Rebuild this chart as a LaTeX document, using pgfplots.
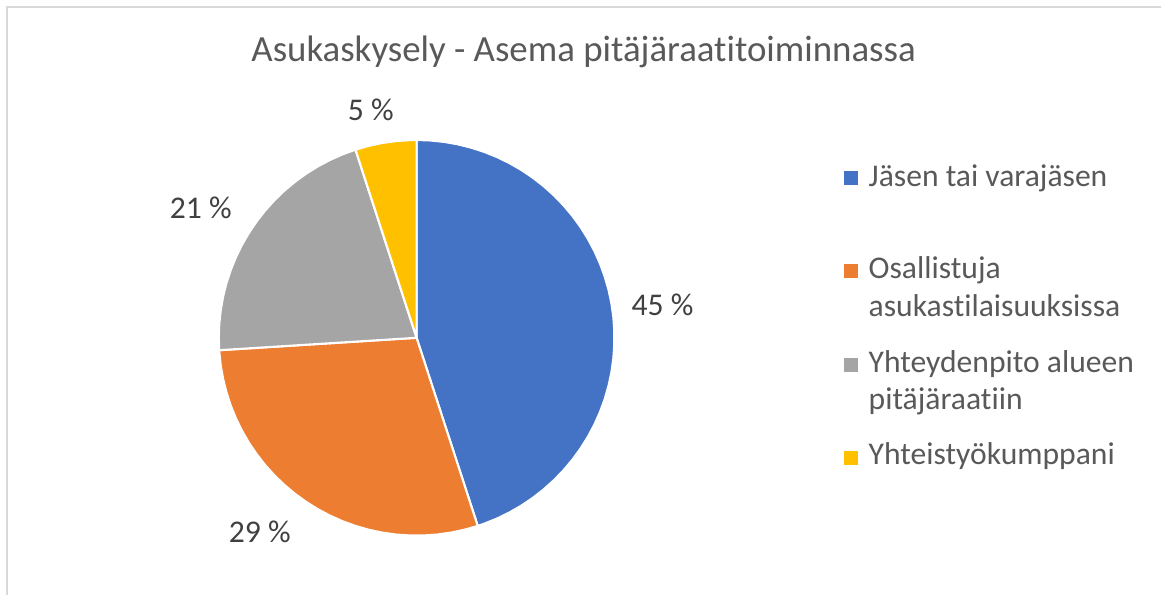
\documentclass[border=0pt]{standalone}
\usepackage{pgfplots}
\pgfplotsset{compat=1.18}
\usepackage{fontspec}
\setmainfont{Carlito}[Ligatures=NoCommon]
\definecolor{cblue}{HTML}{4472C4}
\definecolor{corange}{HTML}{ED7D31}
\definecolor{cgray}{HTML}{A5A5A5}
\definecolor{cyellow}{HTML}{FFC000}
\definecolor{txt}{HTML}{595959}
\definecolor{lbl}{HTML}{404040}
\definecolor{frame}{HTML}{D9D9D9}
\begin{document}
\begin{tikzpicture}[x=0.02cm,y=0.02cm]
\path (0,0) rectangle (1162,595);
\draw[frame, line width=1pt] (7,0) -- (7,588) -- (1162,588);
\begin{axis}[at={(8.34cm,5.14cm)}, anchor=origin, x=3.96cm, y=3.96cm,
  hide axis, xmin=-1, xmax=1, ymin=-1, ymax=1, clip=false,
  data cs=polar]
% Jasen tai varajasen 45 %
\addplot[fill=cblue, draw=white, line width=1.2pt, line join=round] coordinates {
(0,0) (90,1) (86,1) (82,1) (78,1) (74,1) (70,1) (66,1) (62,1) (58,1) (54,1) (50,1)
(46,1) (42,1) (38,1) (34,1) (30,1) (26,1) (22,1) (18,1) (14,1) (10,1) (6,1) (2,1)
(-2,1) (-6,1) (-10,1) (-14,1) (-18,1) (-22,1) (-26,1) (-30,1) (-34,1) (-38,1) (-42,1)
(-46,1) (-50,1) (-54,1) (-58,1) (-62,1) (-66,1) (-70,1) (-72,1) (0,0)};
% Osallistuja 29 %
\addplot[fill=corange, draw=white, line width=1.2pt, line join=round] coordinates {
(0,0) (-72,1) (-76,1) (-80,1) (-84,1) (-88,1) (-92,1) (-96,1) (-100,1) (-104,1) (-108,1)
(-112,1) (-116,1) (-120,1) (-124,1) (-128,1) (-132,1) (-136,1) (-140,1) (-144,1)
(-148,1) (-152,1) (-156,1) (-160,1) (-164,1) (-168,1) (-172,1) (-176,1) (-176.4,1) (0,0)};
% Yhteydenpito 21 %
\addplot[fill=cgray, draw=white, line width=1.2pt, line join=round] coordinates {
(0,0) (-176.4,1) (-180,1) (-184,1) (-188,1) (-192,1) (-196,1) (-200,1) (-204,1) (-208,1)
(-212,1) (-216,1) (-220,1) (-224,1) (-228,1) (-232,1) (-236,1) (-240,1) (-244,1)
(-248,1) (-252,1) (0,0)};
% Yhteistyokumppani 5 %
\addplot[fill=cyellow, draw=white, line width=1.2pt, line join=round] coordinates {
(0,0) (-252,1) (-256,1) (-260,1) (-264,1) (-268,1) (-270,1) (0,0)};
\end{axis}
% title
\node[anchor=base, inner sep=0pt, text=txt, font=\fontsize{21}{25}\selectfont] at (584,533) {Asukaskysely - Asema pitäjäraatitoiminnassa};
% data labels
\begin{scope}[every node/.style={anchor=base, inner sep=0pt, text=lbl, font=\fontsize{18}{22}\selectfont}]
\node at (663,279) {45~\%};
\node at (260,52) {29~\%};
\node at (201,376) {21~\%};
\node at (371,474) {5~\%};
\end{scope}
% legend
\fill[cblue] (845,410) rectangle (859,424);
\fill[corange] (845,317) rectangle (859,331);
\fill[cgray] (845,223) rectangle (859,237);
\fill[cyellow] (845,130) rectangle (859,144);
\begin{scope}[every node/.style={anchor=base west, text=txt, inner sep=0pt, font=\fontsize{18}{22}\selectfont}]
\node at (869,408) {Jäsen tai varajäsen};
\node at (869,316) {Osallistuja};
\node at (869,278) {asukastilaisuuksissa};
\node at (869,222) {Yhteydenpito alueen};
\node at (869,185) {pitäjäraatiin};
\node at (869,130) {Yhteistyökumppani};
\end{scope}
\end{tikzpicture}
\end{document}
